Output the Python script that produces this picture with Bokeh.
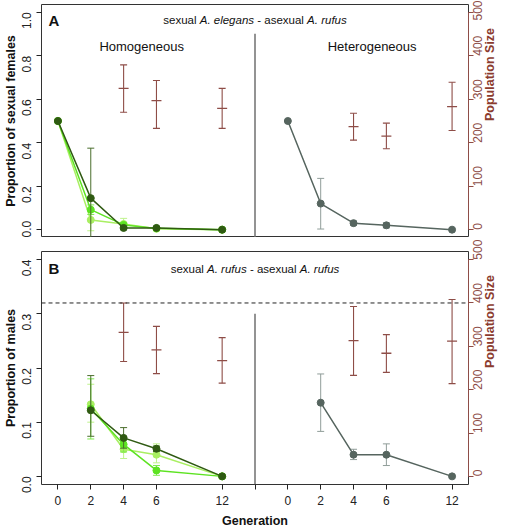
import math
from bokeh.plotting import figure
from bokeh.models import Range1d, LinearAxis, FixedTicker, Span, Label, PrintfTickFormatter
from bokeh.layouts import column
from bokeh.embed import file_html
from bokeh.resources import INLINE

nan = float("nan")

# ---------------- data ----------------
generations = [0, 2, 4, 6, 12]
gen_labels = ["0", "2", "4", "6", "12"]
pop_generations = [4, 6, 12]
b_generations = [2, 4, 6, 12]

# Panel A: proportion of sexual females (sexual A. elegans - asexual A. rufus)
a_hom_dark = [0.50, 0.145, 0.008, 0.008, 0.0]
a_hom_dark_lo = [nan, -0.085, 0.0, 0.003, nan]
a_hom_dark_hi = [nan, 0.375, 0.016, 0.013, nan]
a_hom_mid = [0.50, 0.092, 0.022, 0.006, 0.0]
a_hom_mid_lo = [nan, 0.070, 0.012, 0.002, nan]
a_hom_mid_hi = [nan, 0.114, 0.032, 0.010, nan]
a_hom_light = [0.50, 0.045, 0.026, 0.004, 0.0]
a_hom_light_lo = [nan, -0.005, 0.003, 0.0, nan]
a_hom_light_hi = [nan, 0.095, 0.052, 0.008, nan]
a_het = [0.50, 0.12, 0.03, 0.02, 0.0]
a_het_lo = [nan, 0.003, 0.02, 0.008, nan]
a_het_hi = [nan, 0.236, 0.04, 0.032, nan]
a_pop_hom = [325, 297, 279]
a_pop_hom_lo = [270, 233, 233]
a_pop_hom_hi = [379, 343, 325]
a_pop_het = [237, 215, 283]
a_pop_het_lo = [206, 186, 228]
a_pop_het_hi = [268, 245, 339]

# Panel B: proportion of males (sexual A. rufus - asexual A. rufus)
b_hom_dark = [0.122, 0.071, 0.051, 0.0]
b_hom_dark_lo = [0.074, 0.052, 0.046, nan]
b_hom_dark_hi = [0.186, 0.090, 0.056, nan]
b_hom_mid = [0.125, 0.059, 0.011, 0.0]
b_hom_mid_lo = [0.069, 0.045, 0.002, nan]
b_hom_mid_hi = [0.180, 0.073, 0.020, nan]
b_hom_light = [0.133, 0.050, 0.040, 0.0]
b_hom_light_lo = [0.100, 0.033, 0.025, nan]
b_hom_light_hi = [0.170, 0.067, 0.060, nan]
b_het = [0.136, 0.04, 0.04, 0.0]
b_het_lo = [0.083, 0.031, 0.02, nan]
b_het_hi = [0.189, 0.05, 0.06, nan]
b_pop_hom = [332, 292, 267]
b_pop_hom_lo = [265, 237, 215]
b_pop_hom_hi = [400, 346, 320]
b_pop_het = [313, 284, 312]
b_pop_het_lo = [233, 240, 214]
b_pop_het_hi = [392, 327, 408]
b_pop_threshold = 400

# ---------------- layout / style ----------------
FONT = "Liberation Sans"
BROWN = "#8e4d47"
BROWN_TXT = "#8b3b2e"
BOX = "#333333"
DARK = "#2f5a12"
DARK_ERR = "#4a6e2c"
MID = "#5de322"
MID_ERR = "#7eea4e"
LIGHT = "#a9ef62"
LIGHT_ERR = "#bff38c"
GRAY = "#56655f"
GRAY_ERR = "#909d99"
SLOT = {0: 0, 2: 2, 4: 4, 6: 6, 12: 10}   # axis slot of each generation
RIGHT_SHIFT = 14                          # heterogeneous block offset
DIVIDER = 12

ARIAL_W = {'s': 500, 'e': 556, 'x': 500, 'u': 556, 'a': 556, 'l': 222, ' ': 278, 'A': 667,
           '.': 278, 'g': 556, 'n': 556, '-': 333, 'r': 333, 'f': 278}


def pos(gens, shift=0):
    return [SLOT[g] + shift for g in gens]


def errbars(p, xs, lo, hi, color, cap=7, lw=1.0, rng="default"):
    pts = [(x, l, h) for x, l, h in zip(xs, lo, hi) if not (math.isnan(l) or math.isnan(h))]
    if not pts:
        return
    x = [a for a, _, _ in pts]
    l = [b for _, b, _ in pts]
    h = [c for _, _, c in pts]
    p.segment(x0=x, y0=l, x1=x, y1=h, line_color=color, line_width=lw, y_range_name=rng)
    p.scatter(x=x + x, y=l + h, marker="dash", size=cap, line_color=color, line_width=lw,
              y_range_name=rng)


def series(p, xs, ys, color, lo, hi, ecolor):
    errbars(p, xs, lo, hi, ecolor)
    p.line(xs, ys, line_color=color, line_width=1.5)
    p.scatter(xs, ys, marker="circle", size=7, fill_color=color, line_color=color)


def pop_bars(p, xs, m, lo, hi):
    errbars(p, xs, lo, hi, BROWN, cap=7, lw=1.1, rng="pop")
    p.scatter(x=xs, y=m, marker="dash", size=10, line_color=BROWN, line_width=1.3,
              y_range_name="pop")


def mixed_title(p, x, y, tokens, size):
    total = sum(ARIAL_W[c] for t, _ in tokens for c in t) * size / 1000.0
    off = -total / 2.0
    for t, style in tokens:
        w = sum(ARIAL_W[c] for c in t) * size / 1000.0
        if t.strip():
            p.add_layout(Label(x=x, y=y, x_offset=off, text=t, text_font=FONT,
                               text_font_size=f"{size}px", text_font_style=style,
                               text_align="left", text_baseline="middle", text_color="#111111"))
        off += w


def base_fig(height, yr, popr, top, bottom, show_x, ylabel, yticks):
    p = figure(width=510, height=height, x_range=Range1d(-1, 25), y_range=Range1d(*yr),
               output_backend="svg", toolbar_location=None,
               x_axis_location="below" if show_x else None,
               min_border_left=41, min_border_right=42, min_border_top=top,
               min_border_bottom=bottom)
    p.extra_y_ranges = {"pop": Range1d(*popr)}
    p.grid.visible = False
    p.outline_line_color = BOX
    p.outline_line_width = 1
    p.outline_line_alpha = 1

    ax = p.yaxis[0]
    ax.ticker = FixedTicker(ticks=yticks)
    ax.formatter = PrintfTickFormatter(format="%.1f")
    ax.axis_line_color = None
    ax.major_tick_out = 5
    ax.major_tick_in = 0
    ax.minor_tick_line_color = None
    ax.major_tick_line_color = "#222222"
    ax.major_label_text_font = FONT
    ax.major_label_text_font_size = "12px"
    ax.major_label_text_color = "#222222"
    ax.major_label_orientation = math.pi / 2
    ax.major_label_standoff = 10
    ax.axis_label = ylabel
    ax.axis_label_text_font = FONT
    ax.axis_label_text_font_size = "12.5px"
    ax.axis_label_text_font_style = "bold"
    ax.axis_label_text_color = "#111111"
    ax.axis_label_standoff = -3

    ra = LinearAxis(y_range_name="pop", ticker=FixedTicker(ticks=[0, 100, 200, 300, 400, 500]),
                    bounds=(0, 500))
    ra.axis_line_color = BROWN
    ra.major_tick_line_color = BROWN
    ra.major_tick_out = 5
    ra.major_tick_in = 0
    ra.minor_tick_line_color = None
    ra.major_label_text_font = FONT
    ra.major_label_text_font_size = "12px"
    ra.major_label_text_color = BROWN
    ra.major_label_orientation = math.pi / 2
    ra.major_label_standoff = 4
    ra.axis_label = "Population Size"
    ra.axis_label_text_font = FONT
    ra.axis_label_text_font_size = "12.5px"
    ra.axis_label_text_font_style = "bold"
    ra.axis_label_text_color = BROWN_TXT
    ra.axis_label_standoff = 0
    ra.axis_label_orientation = math.pi / 2
    p.add_layout(ra, "right")

    if show_x:
        xa = p.xaxis[0]
        ticks = pos(generations) + [DIVIDER] + pos(generations, RIGHT_SHIFT)
        labels = gen_labels + [""] + gen_labels
        xa.ticker = FixedTicker(ticks=ticks)
        xa.major_label_overrides = {t: l for t, l in zip(ticks, labels)}
        xa.axis_line_color = None
        xa.major_tick_out = 5
        xa.major_tick_in = 0
        xa.minor_tick_line_color = None
        xa.major_tick_line_color = "#222222"
        xa.major_label_text_font = FONT
        xa.major_label_text_font_size = "12px"
        xa.major_label_text_color = "#222222"
        xa.major_label_standoff = 6
        xa.axis_label = "Generation"
        xa.axis_label_text_font = FONT
        xa.axis_label_text_font_size = "12.5px"
        xa.axis_label_text_font_style = "bold"
        xa.axis_label_text_color = "#111111"
        xa.axis_label_standoff = 6
    return p


# ---------------- Panel A ----------------
pA = base_fig(237, (-0.036, 1.036), (-18, 518), 4, 0, False,
              "Proportion of sexual females", [0, 0.2, 0.4, 0.6, 0.8, 1.0])
pA.segment(x0=[DIVIDER], y0=[-0.036], x1=[DIVIDER], y1=[0.902], line_color="#6f6f6f",
           line_width=1.5)
xh = pos(generations)
xr = pos(generations, RIGHT_SHIFT)
series(pA, xh, a_hom_light, LIGHT, a_hom_light_lo, a_hom_light_hi, LIGHT_ERR)
series(pA, xh, a_hom_mid, MID, a_hom_mid_lo, a_hom_mid_hi, MID_ERR)
series(pA, xh, a_hom_dark, DARK, a_hom_dark_lo, a_hom_dark_hi, DARK_ERR)
series(pA, xr, a_het, GRAY, a_het_lo, a_het_hi, GRAY_ERR)
pop_bars(pA, pos(pop_generations), a_pop_hom, a_pop_hom_lo, a_pop_hom_hi)
pop_bars(pA, pos(pop_generations, RIGHT_SHIFT), a_pop_het, a_pop_het_lo, a_pop_het_hi)
pA.add_layout(Label(x=-0.57, y=0.962, text="A", text_font=FONT, text_font_size="15px",
                    text_font_style="bold", text_baseline="middle", text_color="#111111"))
mixed_title(pA, DIVIDER, 0.966,
            [("sexual", "normal"), (" ", "normal"), ("A. elegans", "italic"), (" ", "normal"),
             ("-", "normal"), (" ", "normal"), ("asexual", "normal"), (" ", "normal"),
             ("A. rufus", "italic")], 11.5)
pA.add_layout(Label(x=5.1, y=0.842, text="Homogeneous", text_font=FONT, text_font_size="13px",
                    text_align="center", text_baseline="middle", text_color="#111111"))
pA.add_layout(Label(x=19.13, y=0.842, text="Heterogeneous", text_font=FONT, text_font_size="13px",
                    text_align="center", text_baseline="middle", text_color="#111111"))

# ---------------- Panel B ----------------
pB = base_fig(295, (-0.015, 0.415), (-18.75, 518.75), 14, 48, True,
              "Proportion of males", [0, 0.1, 0.2, 0.3, 0.4])
pB.add_layout(Span(location=b_pop_threshold, dimension="width", y_range_name="pop",
                   line_color="#222222", line_width=1, line_dash="4 3"))
pB.segment(x0=[DIVIDER], y0=[-0.015], x1=[DIVIDER], y1=[0.3], line_color="#6f6f6f",
           line_width=1.5)
xbh = pos(b_generations)
xbr = pos(b_generations, RIGHT_SHIFT)
series(pB, xbh, b_hom_light, LIGHT, b_hom_light_lo, b_hom_light_hi, LIGHT_ERR)
series(pB, xbh, b_hom_mid, MID, b_hom_mid_lo, b_hom_mid_hi, MID_ERR)
series(pB, xbh, b_hom_dark, DARK, b_hom_dark_lo, b_hom_dark_hi, DARK_ERR)
series(pB, xbr, b_het, GRAY, b_het_lo, b_het_hi, GRAY_ERR)
pop_bars(pB, pos(pop_generations), b_pop_hom, b_pop_hom_lo, b_pop_hom_hi)
pop_bars(pB, pos(pop_generations, RIGHT_SHIFT), b_pop_het, b_pop_het_lo, b_pop_het_hi)
pB.add_layout(Label(x=-0.57, y=0.383, text="B", text_font=FONT, text_font_size="15px",
                    text_font_style="bold", text_baseline="middle", text_color="#111111"))
mixed_title(pB, DIVIDER, 0.383,
            [("sexual", "normal"), (" ", "normal"), ("A. rufus", "italic"), (" ", "normal"),
             ("-", "normal"), (" ", "normal"), ("asexual", "normal"), (" ", "normal"),
             ("A. rufus", "italic")], 11.5)

layout = column(pA, pB)
open("out.html", "w").write(file_html(layout, INLINE))
